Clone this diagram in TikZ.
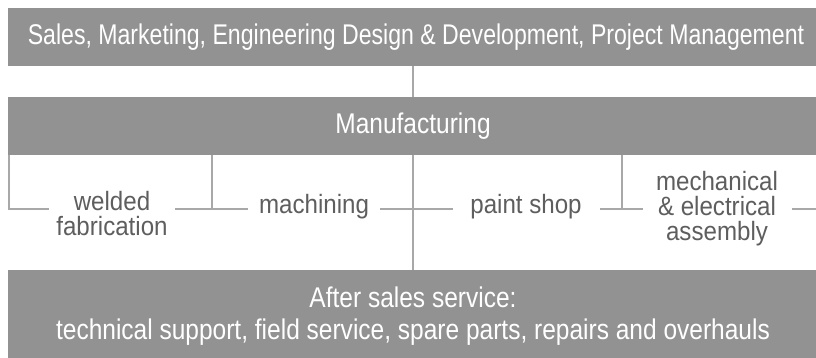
\documentclass[tikz,border=0pt]{standalone}
\usepackage{fontspec}
\usetikzlibrary{backgrounds}
\setmainfont{Liberation Sans}
\newfontfamily\topfont[FakeStretch=0.81]{Liberation Sans}
\newfontfamily\boxfont[FakeStretch=0.86]{Liberation Sans}
\newfontfamily\labfont[FakeStretch=0.91]{Liberation Sans}
\definecolor{boxgray}{HTML}{929292}
\definecolor{labgray}{HTML}{5E5E5E}
\definecolor{linegray}{HTML}{A8A8A8}
\tikzset{
  graybox/.style={rectangle, fill=boxgray, inner sep=0pt, text=white,
    font=\boxfont\fontsize{28.5}{32}\selectfont, align=center},
  lab/.style={rectangle, fill=white, inner ysep=0pt, inner xsep=0pt, text=labgray,
    font=\labfont\fontsize{26.5}{25}\selectfont, align=center},
  conn/.style={draw=linegray, line width=1.4pt},
}
\begin{document}
\begin{tikzpicture}[x=1pt,y=-1pt]
\useasboundingbox (0,0) rectangle (816,358);
% boxes
\node[graybox, minimum width=810pt, minimum height=58pt] (top) at (413,37) {};
\node[text=white, inner sep=0pt, font=\topfont\fontsize{28.5}{32}\selectfont] (toptxt) at (416,37)
  {Sales, Marketing, Engineering Design \& Development, Project Management};
\node[graybox, minimum width=810pt, minimum height=58pt] (manu) at (413,126) {Manufacturing};
\node[graybox, minimum width=810pt, minimum height=92pt] (after) at (413,316)
  {After sales service:\\technical support, field service, spare parts, repairs and overhauls};
% connectors
\coordinate (hl) at (9,209);
\coordinate (hr) at (816,209);
\coordinate (v1) at (212,209);
\coordinate (v2) at (622,209);
\begin{scope}[on background layer]
\draw[conn] (top.south) -- (after.north);
\draw[conn] (manu.south -| hl) -- (hl) -- (hr);
\draw[conn] (manu.south -| v1) -- (v1);
\draw[conn] (manu.south -| v2) -- (v2);
\end{scope}
% labels
\node[lab, minimum width=126pt, minimum height=44pt] (weld) at (112,214) {welded\\fabrication};
\node[lab, minimum width=132pt, minimum height=30pt] (mach) at (314,207) {machining};
\node[lab, minimum width=147pt, minimum height=30pt] (paint) at (526,207) {paint shop};
\node[lab, minimum width=149pt, minimum height=70pt] (mech) at (717,209) {mechanical\\\& electrical\\assembly};
\end{tikzpicture}
\end{document}
